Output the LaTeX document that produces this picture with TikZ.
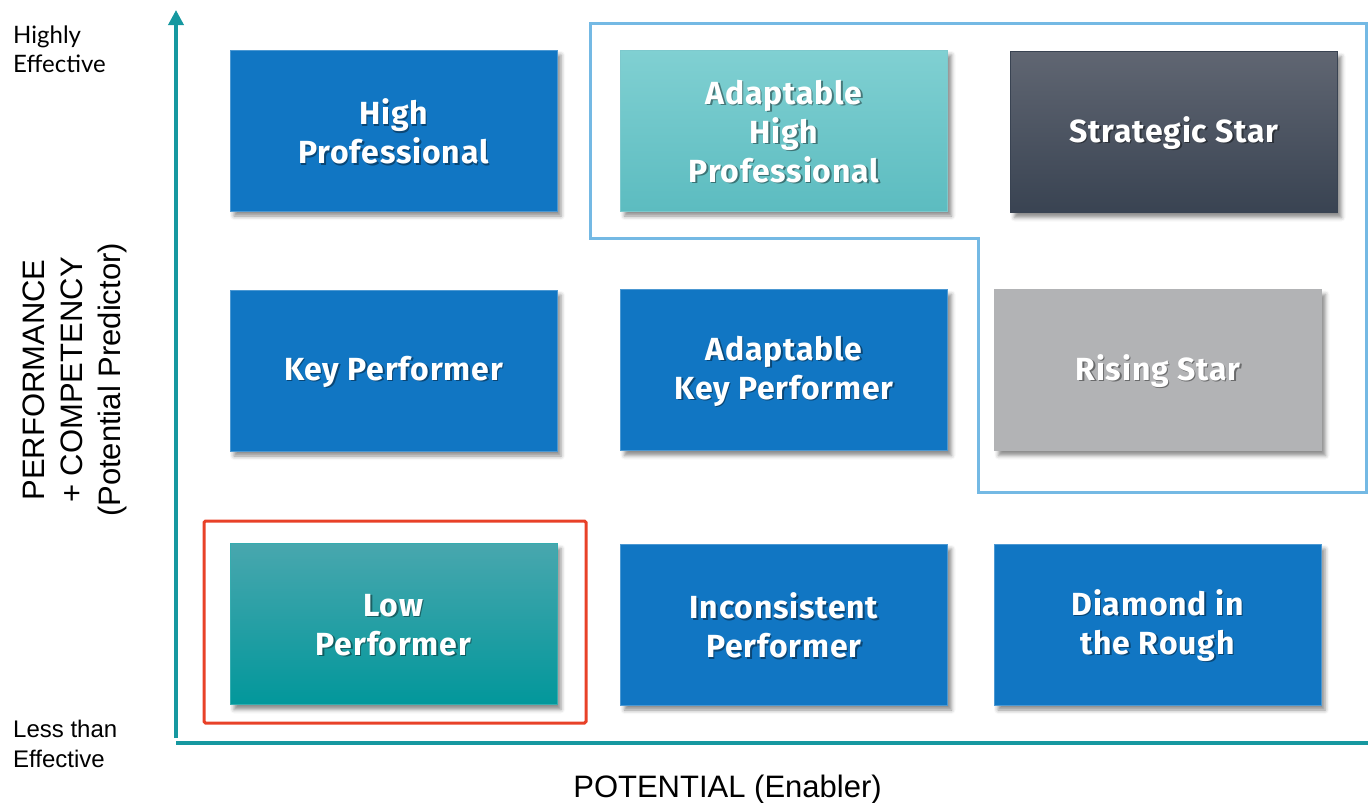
\documentclass[tikz,border=0pt]{standalone}
\usepackage{fontspec}
\setmainfont{Liberation Sans}
\newfontfamily\boxfont[LetterSpace=2.5]{Fira Sans}
\newfontfamily\latofont{Lato}
\usetikzlibrary{arrows.meta,shadows.blur}
\definecolor{cblue}{RGB}{17,118,195}
\definecolor{cteal}{RGB}{22,152,160}
\definecolor{coutline}{RGB}{116,185,228}
\definecolor{cred}{RGB}{232,65,40}
\definecolor{aqtop}{RGB}{128,208,210}
\definecolor{aqbot}{RGB}{92,188,192}
\definecolor{sstop}{RGB}{96,102,114}
\definecolor{ssbot}{RGB}{57,67,82}
\definecolor{lptop}{RGB}{72,167,174}
\definecolor{lpbot}{RGB}{2,151,155}
\definecolor{cgrey}{RGB}{178,179,181}
\tikzset{
  cellbox/.style={minimum width=327pt, minimum height=161pt, inner sep=0pt,
    line width=0.8pt,
    blur shadow={shadow xshift=4pt, shadow yshift=-5pt, shadow blur radius=4pt, shadow opacity=45}},
  blueb/.style={fill=cblue, draw=cblue!75!white},
  aquab/.style={top color=aqtop, bottom color=aqbot, draw=aqbot!80!white},
  starb/.style={top color=sstop, bottom color=ssbot, draw=ssbot},
  greyb/.style={fill=cgrey, draw=cgrey},
  lowb/.style={top color=lptop, bottom color=lpbot, draw=lpbot!80!white},
  celltxt/.style={font=\boxfont\bfseries\fontsize{32}{39}\selectfont, align=center, inner sep=0pt},
  axis/.style={draw=cteal},
  frame/.style={line width=3pt},
  sidelbl/.style={align=left, inner sep=0pt, anchor=north west},
}
\newcommand\mkcell[4]{%
  \node[cellbox,#3] (#1) at (#2) {};
  \node[celltxt,text=black,opacity=.4] (#1s) at ([shift={(1.5,2.5)}]#1.center) {#4};
  \node[celltxt,text=white] (#1t) at ([shift={(0,1.2)}]#1.center) {#4};
}
\begin{document}
\begin{tikzpicture}[x=1pt,y=-1pt]
\useasboundingbox (0,0) rectangle (1368,803);
% highlight frames
\draw[frame, draw=coutline] (590,23) -- (1366,23) -- (1366,492) -- (978,492) -- (978,238) -- (590,238) -- cycle;
\draw[frame, draw=cred, rounded corners=1.5pt] (204,521) rectangle (586,723);
% cells
\mkcell{c11}{393.5,130.5}{blueb}{High\\Professional}
\mkcell{c12}{784,130.5}{aquab}{Adaptable\\High\\Professional}
\mkcell{c13}{1174,132}{starb}{Strategic Star}
\mkcell{c21}{393.5,370.5}{blueb}{Key Performer}
\mkcell{c22}{784,370}{blueb}{Adaptable\\Key Performer}
\mkcell{c23}{1158,370}{greyb}{Rising Star}
\mkcell{c31}{393.5,624}{lowb}{Low\\Performer}
\mkcell{c32}{784,624.5}{blueb}{Inconsistent\\Performer}
\mkcell{c33}{1157.5,624.5}{blueb}{Diamond in\\the Rough}
% axes
\coordinate (yo) at (176,738);
\coordinate (yt) at (176,10);
\coordinate (xo) at (176,743);
\coordinate (xe) at (1368,743);
\draw[axis, line width=3.5pt, -{Triangle[width=15pt,length=15pt]}] (yo) -- (yt);
\draw[axis, line width=4pt] (xo) -- (xe);
% labels
\node[sidelbl, font=\latofont\fontsize{24}{29}\selectfont] (hi) at (13,26) {Highly\\Effective};
\node[sidelbl, font=\fontsize{24}{30}\selectfont] (lo) at (13,720) {Less than\\Effective};
\node[font=\fontsize{31}{37}\selectfont, anchor=base, inner sep=0pt] (xl) at (727.5,797) {POTENTIAL (Enabler)};
\node[font=\fontsize{31}{38}\selectfont, align=center, rotate=90, inner sep=0pt] (yl) at (75,380) {PERFORMANCE\\+ COMPETENCY\\(Potential Predictor)};
\end{tikzpicture}
\end{document}
